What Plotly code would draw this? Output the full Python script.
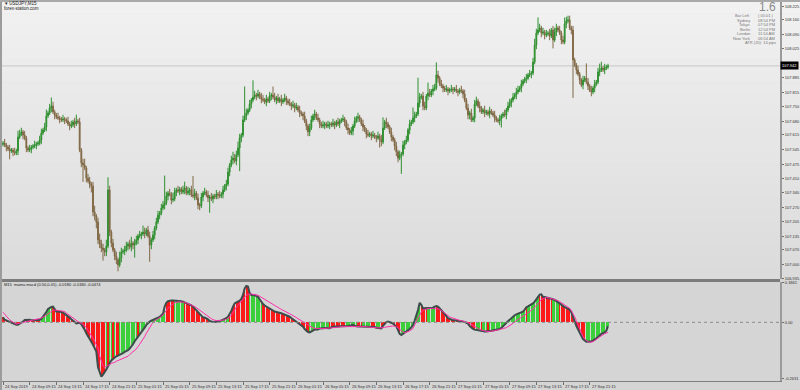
import pandas as pd
import plotly.graph_objects as go

# ---------------- data ----------------
START = "2019-09-24 05:15"
OPEN0 = 107.570
CLOSE = [
 107.576,107.567,107.557,107.548,107.539,107.543, 107.534,107.529,107.539,107.605,107.619,107.629,
 107.614,107.600,107.553,107.543,107.548,107.557, 107.562,107.567,107.572,107.576,107.591,107.624,
 107.638,107.652,107.705,107.719,107.742,107.752, 107.724,107.709,107.700,107.695,107.690,107.686,
 107.690,107.686,107.681,107.667,107.657,107.662, 107.676,107.667,107.681,107.676,107.543,107.482,
 107.472,107.458,107.410,107.396,107.382,107.372, 107.249,107.230,107.202,107.117,107.098,107.079,
 107.069,107.060,107.088,107.354,107.155,107.102, 107.069,107.041,107.022,106.998,107.031,107.060,
 107.065,107.069,107.088,107.098,107.083,107.102, 107.093,107.102,107.117,107.136,107.140,107.145,
 107.155,107.145,107.164,107.136,107.093,107.117, 107.140,107.173,107.202,107.235,107.244,107.268,
 107.282,107.292,107.325,107.339,107.334,107.306, 107.311,107.344,107.354,107.349,107.358,107.344,
 107.354,107.363,107.339,107.349,107.354,107.330, 107.325,107.339,107.316,107.282,107.278,107.320,
 107.339,107.344,107.330,107.316,107.320,107.311, 107.325,107.320,107.334,107.330,107.325,107.334,
 107.354,107.372,107.382,107.439,107.472,107.496, 107.505,107.491,107.520,107.553,107.600,107.614,
 107.686,107.705,107.719,107.733,107.761,107.780, 107.794,107.804,107.799,107.809,107.794,107.785,
 107.780,107.771,107.785,107.776,107.799,107.804, 107.794,107.780,107.790,107.776,107.785,107.771,
 107.780,107.790,107.776,107.766,107.761,107.752, 107.757,107.742,107.747,107.733,107.719,107.714,
 107.705,107.681,107.657,107.629,107.648,107.686, 107.705,107.714,107.695,107.686,107.667,107.657,
 107.662,107.667,107.657,107.662,107.667,107.662, 107.671,107.662,107.676,107.667,107.681,107.686,
 107.690,107.676,107.648,107.638,107.624,107.633, 107.657,107.681,107.695,107.700,107.686,107.667,
 107.652,107.638,107.619,107.614,107.619,107.610, 107.614,107.605,107.600,107.610,107.595,107.581,
 107.648,107.676,107.667,107.652,107.629,107.605, 107.591,107.562,107.534,107.505,107.520,107.524,
 107.567,107.581,107.591,107.638,107.667,107.676, 107.695,107.705,107.714,107.766,107.794,107.799,
 107.752,107.742,107.799,107.813,107.804,107.823, 107.832,107.837,107.899,107.884,107.856,107.847,
 107.837,107.828,107.832,107.823,107.828,107.832, 107.828,107.832,107.823,107.818,107.828,107.823,
 107.809,107.780,107.742,107.709,107.719,107.686, 107.695,107.761,107.776,107.752,107.742,107.724,
 107.733,107.719,107.724,107.714,107.728,107.719, 107.709,107.695,107.686,107.681,107.690,107.705,
 107.714,107.709,107.733,107.752,107.766,107.780, 107.794,107.804,107.818,107.828,107.837,107.856,
 107.870,107.880,107.884,107.899,107.903,107.908, 107.960,108.041,108.098,108.112,108.122,108.098,
 108.103,108.088,108.093,108.098,108.084,108.112, 108.065,108.103,108.122,108.112,108.098,108.065,
 108.055,108.141,108.155,108.160,108.122,108.112, 107.970,107.946,107.923,107.903,107.875,107.851,
 107.875,107.884,107.865,107.847,107.828,107.818, 107.837,107.856,107.865,107.913,107.923,107.932,
 107.923,107.932,107.937,107.942,
]
# wick lengths beyond the body, in pips (0.01)
UP_WICK = [
 1,2,1,1,2,1,1,2,1,3,2,2,1,2,1,1,2,1,1,2, 1,1,2,2,1,2,3,1,2,4,2,1,1,2,1,1,2,1,1,2,
 1,2,1,2,3,1,2,1,2,3,1,2,2,1,2,3,1,2,3,2, 2,1,3,6,2,1,2,1,2,1,3,2,1,2,2,1,2,3,1,2,
 2,1,2,1,3,2,1,2,2,1,2,1,2,2,1,2,2,13,2,1, 2,1,3,2,1,2,1,1,2,3,1,2,1,2,9,2,1,2,1,2,
 1,2,1,2,1,2,1,1,2,1,2,1,2,1,2,2,1,2,3,2, 2,3,2,1,2,14,2,1,2,1,8,2,1,2,1,2,2,1,2,1,
 2,1,4,2,1,2,1,2,1,2,1,1,2,1,2,1,2,1,2,1, 1,2,1,1,2,2,1,2,1,2,1,1,2,1,1,2,1,1,2,1,
 1,2,1,1,2,1,1,2,1,2,1,2,1,2,1,1,2,1,1,2, 1,1,2,1,1,2,1,2,5,1,2,1,1,2,1,1,2,1,2,1,
 2,1,2,1,2,1,5,2,1,12,2,1,2,2,1,5,2,1,2,2, 6,2,1,2,1,1,2,1,1,2,1,1,2,1,1,2,1,2,1,2,
 1,2,1,2,2,1,2,1,1,2,1,1,2,1,1,2,1,1,2,1, 1,2,1,2,2,1,2,1,2,2,1,2,1,1,2,1,2,1,2,3,
 2,6,2,1,2,1,2,1,2,1,2,2,2,1,2,1,2,3,2,2, 2,1,2,1,1,2,1,1,2,1,7,2,1,2,1,2,1,2,3,3,
 1,2,1,1,
]
DOWN_WICK = [
 1,1,2,1,4,1,2,1,1,2,1,1,2,1,2,1,1,2,1,1, 2,1,1,2,1,1,2,1,1,2,1,2,1,1,2,1,1,2,1,1,
 2,1,1,2,1,1,1,2,8,1,2,1,2,3,2,2,3,2,2,2, 5,2,2,1,2,2,1,2,2,3,1,2,1,2,1,2,1,2,2,6,
 1,2,1,2,1,2,1,1,8,2,1,2,1,1,2,1,1,2,1,2, 1,2,1,1,2,1,2,1,1,2,1,1,2,1,1,2,1,2,2,1,
 2,1,1,2,7,1,2,1,1,2,1,1,2,1,2,1,2,1,2,1, 2,1,11,2,1,1,2,1,1,2,1,1,2,1,1,2,1,1,2,1,
 1,2,1,1,2,1,1,2,1,1,2,1,1,2,1,2,1,1,2,1, 2,1,2,2,2,1,1,2,1,1,2,1,1,2,1,1,2,1,1,2,
 1,1,2,1,1,2,1,2,1,1,2,1,1,2,1,1,2,1,2,1, 1,2,1,1,2,1,4,2,1,1,2,1,1,2,1,2,2,2,1,9,
 1,2,1,1,2,1,1,2,1,1,2,1,2,1,1,2,1,1,2,1, 1,2,1,1,2,1,1,2,1,1,2,1,1,2,1,1,2,1,1,2,
 2,1,1,2,1,1,2,1,1,2,1,1,2,1,1,2,1,1,2,4, 1,1,2,1,1,2,1,1,2,1,1,2,1,1,2,1,1,2,1,1,
 2,1,1,2,1,2,1,1,2,1,4,1,2,1,1,2,1,1,2,1, 1,2,18,1,2,1,2,1,2,1,1,2,1,2,1,2,1,1,2,1,
 1,2,1,1,
]
MACD = [
 0.023,0.012,0.009,0.005,0.002,-0.002,-0.005,-0.008,-0.011,-0.011,-0.006,-0.003,
 0.003,0.011,0.012,0.014,0.012,0.009,0.008,0.009,0.011,0.011,0.011,0.016,
 0.026,0.034,0.048,0.062,0.068,0.071,0.073,0.060,0.050,0.050,0.050,0.048,
 0.045,0.040,0.034,0.028,0.022,0.014,0.008,0.002,-0.005,-0.003,-0.002,-0.009,
 -0.020,-0.034,-0.051,-0.067,-0.077,-0.091,-0.105,-0.118,-0.136,-0.209,-0.237,-0.253,
 -0.243,-0.233,-0.219,-0.205,-0.191,-0.177,-0.171,-0.163,-0.158,-0.155,-0.152,-0.147,
 -0.143,-0.138,-0.135,-0.130,-0.122,-0.113,-0.102,-0.088,-0.078,-0.067,-0.057,-0.048,
 -0.037,-0.025,-0.012,-0.003,0.003,0.008,0.011,0.014,0.017,0.020,0.025,0.033,
 0.040,0.073,0.091,0.098,0.101,0.101,0.101,0.101,0.099,0.099,0.098,0.098,
 0.096,0.093,0.090,0.087,0.082,0.079,0.073,0.065,0.056,0.047,0.037,0.029,
 0.023,0.022,0.019,0.014,0.006,0.003,0.002,0.001,0.002,0.003,0.006,0.009,
 0.012,0.016,0.019,0.026,0.039,0.053,0.073,0.088,0.093,0.096,0.101,0.109,
 0.127,0.158,0.169,0.166,0.135,0.127,0.127,0.126,0.122,0.119,0.107,0.095,
 0.085,0.078,0.073,0.068,0.065,0.060,0.053,0.050,0.048,0.047,0.045,0.042,
 0.039,0.036,0.033,0.029,0.026,0.020,0.014,0.008,0.003,-0.002,-0.006,-0.012,
 -0.020,-0.031,-0.039,-0.045,-0.047,-0.042,-0.036,-0.034,-0.033,-0.033,-0.029,-0.028,
 -0.026,-0.026,-0.026,-0.028,-0.028,-0.023,-0.020,-0.020,-0.020,-0.020,-0.019,-0.017,
 -0.019,-0.020,-0.019,-0.017,-0.016,-0.014,-0.012,-0.016,-0.019,-0.020,-0.020,-0.020,
 -0.020,-0.020,-0.022,-0.023,-0.023,-0.022,-0.020,-0.022,-0.025,-0.026,-0.029,-0.028,
 -0.016,-0.005,0.001,0.003,0.002,-0.002,-0.006,-0.012,-0.020,-0.036,-0.054,-0.059,
 -0.054,-0.050,-0.043,-0.037,-0.031,-0.023,-0.014,0.008,0.029,0.057,0.091,0.081,
 0.065,0.065,0.065,0.065,0.065,0.065,0.068,0.073,0.076,0.073,0.067,0.057,
 0.047,0.037,0.028,0.019,0.016,0.012,0.009,0.009,0.008,0.008,0.008,0.006,
 0.005,0.002,-0.002,-0.006,-0.017,-0.026,-0.031,-0.034,-0.036,-0.037,-0.039,-0.040,
 -0.043,-0.043,-0.043,-0.043,-0.040,-0.039,-0.037,-0.036,-0.036,-0.034,-0.031,-0.026,
 -0.020,-0.011,-0.002,0.006,0.014,0.020,0.026,0.033,0.037,0.040,0.043,0.047,
 0.050,0.059,0.070,0.074,0.078,0.082,0.088,0.096,0.109,0.121,0.129,0.130,
 0.119,0.118,0.116,0.115,0.113,0.112,0.107,0.104,0.098,0.091,0.085,0.081,
 0.076,0.071,0.067,0.062,0.059,0.047,0.023,0.002,-0.017,-0.033,-0.048,-0.065,
 -0.078,-0.084,-0.090,-0.090,-0.090,-0.088,-0.085,-0.081,-0.074,-0.068,-0.060,-0.054,
 -0.050,-0.047,-0.039,-0.018,
]
SIGNAL = [
 0.047,0.036,0.028,0.020,0.012,0.005,-0.002,-0.005,-0.008,-0.006,-0.005,-0.003,
 0.000,0.003,0.005,0.006,0.008,0.009,0.011,0.012,0.014,0.016,0.017,0.020,
 0.023,0.028,0.033,0.039,0.045,0.051,0.056,0.057,0.057,0.056,0.054,0.053,
 0.051,0.050,0.043,0.037,0.031,0.025,0.019,0.012,0.008,0.003,-0.002,-0.005,
 -0.009,-0.016,-0.025,-0.036,-0.048,-0.060,-0.074,-0.088,-0.102,-0.121,-0.157,-0.183,
 -0.203,-0.209,-0.206,-0.203,-0.197,-0.191,-0.189,-0.186,-0.181,-0.178,-0.175,-0.172,
 -0.169,-0.164,-0.161,-0.158,-0.150,-0.141,-0.136,-0.132,-0.124,-0.113,-0.102,-0.091,
 -0.082,-0.067,-0.051,-0.037,-0.023,-0.009,0.000,0.006,0.011,0.016,0.020,0.026,
 0.034,0.045,0.057,0.065,0.073,0.081,0.085,0.090,0.093,0.095,0.095,0.095,
 0.095,0.093,0.091,0.088,0.085,0.082,0.078,0.073,0.068,0.062,0.056,0.050,
 0.043,0.039,0.034,0.028,0.022,0.017,0.012,0.009,0.008,0.008,0.008,0.008,
 0.009,0.011,0.014,0.019,0.025,0.034,0.048,0.060,0.070,0.079,0.088,0.099,
 0.109,0.118,0.126,0.130,0.132,0.132,0.130,0.129,0.127,0.126,0.121,0.116,
 0.112,0.107,0.102,0.098,0.093,0.088,0.082,0.079,0.074,0.070,0.065,0.060,
 0.056,0.051,0.047,0.043,0.040,0.036,0.031,0.026,0.022,0.017,0.012,0.006,
 0.000,-0.005,-0.009,-0.014,-0.019,-0.023,-0.026,-0.028,-0.029,-0.029,-0.029,-0.029,
 -0.029,-0.029,-0.029,-0.028,-0.028,-0.026,-0.025,-0.025,-0.023,-0.022,-0.022,-0.020,
 -0.020,-0.020,-0.019,-0.019,-0.019,-0.017,-0.017,-0.017,-0.017,-0.017,-0.019,-0.019,
 -0.019,-0.020,-0.020,-0.022,-0.022,-0.023,-0.023,-0.023,-0.025,-0.026,-0.026,-0.028,
 -0.025,-0.023,-0.022,-0.020,-0.019,-0.017,-0.017,-0.019,-0.020,-0.026,-0.033,-0.039,
 -0.045,-0.048,-0.047,-0.043,-0.040,-0.036,-0.029,-0.012,0.003,0.022,0.039,0.048,
 0.057,0.060,0.062,0.064,0.065,0.065,0.065,0.064,0.064,0.062,0.060,0.056,
 0.050,0.043,0.037,0.029,0.025,0.022,0.019,0.016,0.014,0.012,0.009,0.008,
 0.006,0.005,0.002,-0.002,-0.006,-0.011,-0.016,-0.020,-0.025,-0.028,-0.033,-0.036,
 -0.039,-0.040,-0.042,-0.043,-0.043,-0.042,-0.040,-0.039,-0.037,-0.036,-0.034,-0.033,
 -0.031,-0.028,-0.025,-0.020,-0.016,-0.011,-0.005,0.002,0.008,0.012,0.019,0.023,
 0.029,0.034,0.039,0.043,0.050,0.056,0.062,0.070,0.079,0.088,0.098,0.105,
 0.110,0.113,0.116,0.115,0.113,0.112,0.110,0.107,0.104,0.101,0.096,0.091,
 0.087,0.082,0.078,0.073,0.065,0.054,0.042,0.026,0.008,-0.012,-0.033,-0.051,
 -0.067,-0.078,-0.085,-0.090,-0.093,-0.093,-0.090,-0.085,-0.081,-0.074,-0.068,-0.062,
 -0.057,-0.053,-0.050,-0.047,
]
# histogram colour runs: (colour, number of bars)
HIST_RUNS = [
 ("r",23),("g",7),("r",32),("g",1),("r",1),("g",2),("r",1),("g",1),("r",2),("g",11),
 ("r",1),("g",16),("r",5),("g",6),("r",16),("g",11),("r",12),("g",8),("r",28),("g",12),
 ("r",10),("g",7),("r",3),("g",5),("r",3),("g",3),("r",12),("g",12),("r",4),("g",5),
 ("r",24),("g",3),("r",1),("g",3),("r",1),("g",22),("r",1),("g",7),("r",8),("g",4),
 ("r",16),("g",14),
]
TIME_LABELS = [
 "24 Sep 2019","24 Sep 09:15","24 Sep 13:15","24 Sep 17:15","24 Sep 21:15",
 "25 Sep 01:15","25 Sep 05:15","25 Sep 09:15","25 Sep 13:15","25 Sep 17:15","25 Sep 21:15",
 "26 Sep 01:15","26 Sep 05:15","26 Sep 09:15","26 Sep 13:15","26 Sep 17:15","26 Sep 21:15",
 "27 Sep 01:15","27 Sep 05:15","27 Sep 09:15","27 Sep 13:15","27 Sep 17:15","27 Sep 21:15",
]
PRICE_TICKS = [108.225,108.160,108.090,108.025,107.885,107.815,107.750,107.680,107.615,
               107.545,107.475,107.410,107.340,107.270,107.205,107.135,107.070,107.000,106.935]
MACD_TICKS = [0.1861, 0.0, -0.2631]
MACD_TICK_TEXT = ["0.1861", "0.00", "-0.2631"]
CURRENT_PRICE = 107.942
INFO_NAMES = ["Bar Left", "Sydney", "Tokyo", "Berlin", "London", "New York"]
INFO_VALUES = ["( 05:01 )", "08:54 PM", "07:54 PM", "12:54 PM", "11:54 AM", "06:54 AM"]
ATR_TEXT = "ATR (20): 14 pips"
SPREAD_TEXT = "1.6"

# ---------------- build ----------------
n = len(CLOSE)
times = pd.date_range(START, periods=n, freq="15min")
opens = [OPEN0] + CLOSE[:-1]
highs = [max(o, c) + u * 0.01 for o, c, u in zip(opens, CLOSE, UP_WICK)]
lows = [min(o, c) - d * 0.01 for o, c, d in zip(opens, CLOSE, DOWN_WICK)]
hist_colors = []
for col, cnt in HIST_RUNS:
    hist_colors += [("#ff1a1a" if col == "r" else "#3ccf3c")] * cnt

step = pd.Timedelta(minutes=15)
x0 = times[0] - 0.6 * step
x1 = times[0] + 466.2 * step
FONT = "Liberation Sans"

fig = go.Figure()
fig.add_trace(go.Candlestick(
    x=times, open=opens, high=highs, low=lows, close=CLOSE,
    increasing=dict(line=dict(color="#2f8f2f", width=1), fillcolor="#2f8f2f"),
    decreasing=dict(line=dict(color="#806845", width=1), fillcolor="#806845"),
    whiskerwidth=0, xaxis="x", yaxis="y", showlegend=False,
))
fig.add_trace(go.Bar(x=times, y=MACD, marker=dict(color=hist_colors, line=dict(width=0)),
                     width=560000, xaxis="x2", yaxis="y2", showlegend=False))
fig.add_trace(go.Scatter(x=times, y=MACD, mode="lines", line=dict(color="#3e4c4c", width=2),
                         xaxis="x2", yaxis="y2", showlegend=False))
fig.add_trace(go.Scatter(x=times, y=SIGNAL, mode="lines", line=dict(color="#ff2ea8", width=1),
                         xaxis="x2", yaxis="y2", showlegend=False))

# paper geometry: plot area x 2..780, y 2..381 px
def py(ypx):
    return (381 - ypx) / 379.0

def px(xpx):
    return (xpx - 2) / 778.0

shapes = []
top_c, bot_c = (241, 241, 241), (219, 219, 219)
nb = 24
for k in range(nb):
    t = (k + 0.5) / nb
    c = tuple(round(top_c[j] + (bot_c[j] - top_c[j]) * t) for j in range(3))
    ya = 2 + (279 - 2) * k / nb
    yb = 2 + (279 - 2) * (k + 1) / nb
    shapes.append(dict(type="rect", xref="paper", yref="paper", x0=0, x1=px(800),
                       y0=py(yb), y1=py(ya) + 0.001, fillcolor="rgb(%d,%d,%d)" % c,
                       line=dict(width=0), layer="below"))
shapes.append(dict(type="rect", xref="paper", yref="paper", x0=0, x1=px(800), y0=py(390), y1=py(282),
                   fillcolor="#d5d5d5", line=dict(width=0), layer="below"))
shapes.append(dict(type="rect", xref="paper", yref="paper", x0=0, x1=1.0, y0=py(282), y1=py(279),
                   fillcolor="#7c7c7c", line=dict(width=0)))
shapes.append(dict(type="rect", xref="paper", yref="paper", x0=px(0), x1=0, y0=py(390), y1=py(0),
                   fillcolor="#9c9c9c", line=dict(width=0)))
shapes.append(dict(type="rect", xref="paper", yref="paper", x0=px(0), x1=px(800), y0=py(2), y1=py(0),
                   fillcolor="#a9a9a9", line=dict(width=0)))
shapes.append(dict(type="line", xref="paper", yref="y", x0=0, x1=1, y0=CURRENT_PRICE, y1=CURRENT_PRICE,
                   line=dict(color="#c6c6c6", width=1), layer="below"))
shapes.append(dict(type="line", xref="paper", yref="y2", x0=0, x1=1, y0=0, y1=0,
                   line=dict(color="#8a8a8a", width=1, dash="dot")))

ann = []
tf = dict(family=FONT, size=4, color="#303030")
for lbl, t in zip(TIME_LABELS, times[::16]):
    ann.append(dict(x=t, xref="x2", y=py(386), yref="paper", text=lbl, showarrow=False,
                    xanchor="left", yanchor="middle", font=tf))
ann.append(dict(x=px(3), xref="paper", y=py(4), yref="paper", text="▾ USDJPY,M15", showarrow=False,
                xanchor="left", yanchor="middle", font=dict(family=FONT, size=4.5, color="#202020")))
ann.append(dict(x=px(2), xref="paper", y=py(8), yref="paper", text="forex-station.com", showarrow=False,
                xanchor="left", yanchor="middle", font=dict(family=FONT, size=4.5, color="#202020")))
ann.append(dict(x=px(2), xref="paper", y=py(284.5), yref="paper",
                text="M15  mama macd (0.50,0.05) -0.0180 -0.0180 -0.0474", showarrow=False,
                xanchor="left", yanchor="middle", font=dict(family=FONT, size=4, color="#202020")))
ann.append(dict(x=px(778), xref="paper", y=py(7.2), yref="paper", text=SPREAD_TEXT, showarrow=False,
                xanchor="right", yanchor="middle", font=dict(family=FONT, size=12, color="#8a8a8a")))
for k, (nm, vl) in enumerate(zip(INFO_NAMES, INFO_VALUES)):
    yy = py(15.9 + 4.5 * k)
    ann.append(dict(x=px(752), xref="paper", y=yy, yref="paper", text=nm, showarrow=False,
                    xanchor="right", yanchor="middle", font=dict(family=FONT, size=4, color="#777777")))
    ann.append(dict(x=px(756), xref="paper", y=yy, yref="paper", text=vl, showarrow=False,
                    xanchor="left", yanchor="middle", font=dict(family=FONT, size=4, color="#777777")))
ann.append(dict(x=px(778), xref="paper", y=py(42.9), yref="paper", text=ATR_TEXT, showarrow=False,
                xanchor="right", yanchor="middle", font=dict(family=FONT, size=4, color="#777777")))
ann.append(dict(x=1.0, xref="paper", y=CURRENT_PRICE, yref="y", text="%.3f" % CURRENT_PRICE,
                showarrow=False, xanchor="left", yanchor="middle", bgcolor="#000000", borderpad=1,
                font=dict(family=FONT, size=4, color="#ffffff")))

fig.update_layout(
    width=800, height=390, margin=dict(l=2, r=20, t=2, b=9, pad=0, autoexpand=False),
    paper_bgcolor="#d5d5d5", plot_bgcolor="rgba(0,0,0,0)",
    hovermode=False, showlegend=False, bargap=0,
    font=dict(family=FONT, size=4, color="#303030"),
    xaxis=dict(domain=[0, 1], range=[x0, x1], type="date", anchor="y", showgrid=False, zeroline=False,
               showticklabels=False, showline=False, rangeslider=dict(visible=False), automargin=False),
    xaxis2=dict(domain=[0, 1], range=[x0, x1], type="date", anchor="y2", matches="x", showgrid=False,
                zeroline=False, showticklabels=False, showline=True, linecolor="#808080", linewidth=1,
                ticks="outside", ticklen=3, tickcolor="#707070", tickwidth=1, tickvals=list(times[::16]),
                automargin=False),
    yaxis=dict(domain=[py(279), 1], range=[106.9317, 108.245], side="right", anchor="x", showgrid=False,
               zeroline=False, showline=True, linecolor="#9a9a9a", linewidth=2, ticks="outside",
               ticklen=2, tickcolor="#707070", tickvals=PRICE_TICKS,
               ticktext=["%.3f" % v for v in PRICE_TICKS], tickfont=tf, automargin=False),
    yaxis2=dict(domain=[0, py(282)], range=[-0.273, 0.1875], side="right", anchor="x2", showgrid=False,
                zeroline=False, showline=True, linecolor="#9a9a9a", linewidth=2, ticks="outside",
                ticklen=2, tickcolor="#707070", tickvals=MACD_TICKS, ticktext=MACD_TICK_TEXT, tickfont=tf,
                automargin=False),
    shapes=shapes, annotations=ann,
)
fig.write_html("out.html", config={"displayModeBar": False, "staticPlot": True},
               post_script="document.body.style.margin='0';document.body.style.overflow='hidden';")
